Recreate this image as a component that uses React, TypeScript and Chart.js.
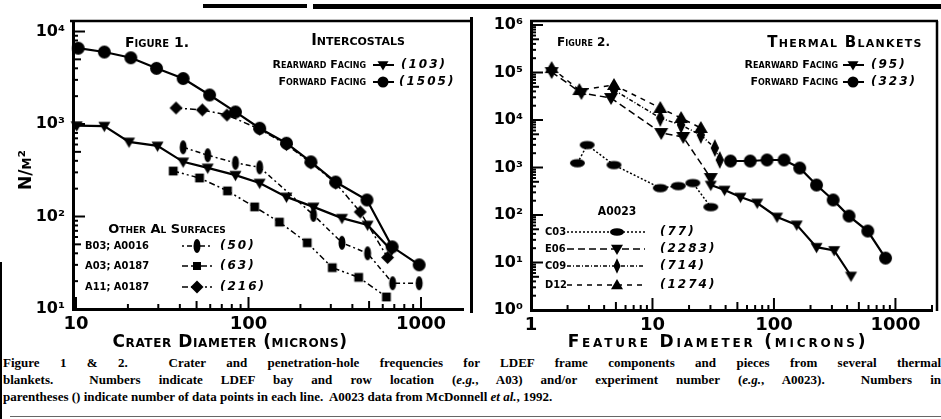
import React, { useEffect, useRef } from "react";
import { Chart, registerables } from "chart.js";

Chart.register(...registerables);

// ---------------- Figure 1 : Intercostals (crater diameter, microns -> N/m^2) ----------------
const fig1ForwardX = [10.3, 14.6, 20.8, 29.3, 41.8, 59.5, 84, 116, 166, 230, 320, 486, 680, 975];
const fig1ForwardY = [6600, 6000, 5200, 4000, 3100, 2060, 1350, 900, 620, 390, 236, 151, 47, 30];
const fig1RearwardX = [10.1, 14.6, 20.3, 29.7, 41.8, 58, 84, 116, 166, 238, 348, 490, 675];
const fig1RearwardY = [960, 950, 640, 580, 390, 335, 280, 230, 163, 127, 96, 81, 43];
const fig1B03X = [41.8, 58, 84, 116, 238, 348, 490, 685, 975];
const fig1B03Y = [560, 460, 380, 340, 104, 52, 40, 19, 19];
const fig1A03X = [36.6, 52, 75.5, 108.6, 151, 219, 306, 435, 630];
const fig1A03Y = [310, 261, 189, 127, 87, 52, 28, 22, 13.5];
const fig1A11X = [38, 54, 75, 116, 166, 230, 320, 444, 640];
const fig1A11Y = [1490, 1420, 1250, 880, 600, 380, 230, 112, 36];

const fig1Names = ["Rearward Facing", "Forward Facing", "B03; A0016", "A03; A0187", "A11; A0187"];
const fig1Counts = ["(103)", "(1505)", "(50)", "(63)", "(216)"];

// ---------------- Figure 2 : Thermal blankets (feature diameter, microns) ----------------
const fig2RearwardX = [30.2, 39.2, 53, 72.8, 106, 154, 224, 313, 431];
const fig2RearwardY = [428, 336, 239, 179, 91, 62, 21, 18, 5.2];
const fig2ForwardX = [43.9, 63.8, 87.7, 121, 163, 224, 307, 415, 592, 829];
const fig2ForwardY = [1370, 1370, 1440, 1440, 976, 428, 207, 95, 46, 12.4];
const fig2C03X = [2.41, 2.9, 4.82, 11.6, 16.3, 21.5, 30.2];
const fig2C03Y = [1240, 2980, 1130, 370, 408, 472, 147];
const fig2E06X = [1.48, 2.6, 4.56, 11.8, 17.9, 30.2];
const fig2E06Y = [102000, 37000, 29000, 5320, 4390, 601];
const fig2C09X = [4.82, 11.6, 17.2, 25, 32.6, 35.8];
const fig2C09Y = [42800, 11000, 7850, 4830, 2570, 1440];
const fig2D12X = [1.48, 2.5, 4.82, 11.6, 17.2, 25];
const fig2D12Y = [124000, 42800, 54600, 17900, 11000, 6790];

const fig2Names = ["Rearward Facing", "Forward Facing", "C03", "E06", "C09", "D12"];
const fig2Counts = ["(95)", "(323)", "(77)", "(2283)", "(714)", "(1274)"];

// ---------------- axes ----------------
const fig1XTicks = [10, 100, 1000];
const fig1YTicks = [10, 100, 1000, 10000];
const fig2XTicks = [1, 10, 100, 1000];
const fig2YTicks = [1, 10, 100, 1000, 10000, 100000, 1000000];
const SUP: Record<string, string> = { "0": "⁰", "1": "¹", "2": "²", "3": "³", "4": "⁴", "5": "⁵", "6": "⁶" };

type Mk = "circle" | "triDown" | "triUp" | "square" | "diamond" | "ellTall" | "ellWide" | "diaTall";

function drawMark(ctx: CanvasRenderingContext2D, kind: Mk, x: number, y: number, s: number) {
  ctx.save();
  ctx.fillStyle = "#000";
  ctx.setLineDash([]);
  ctx.beginPath();
  switch (kind) {
    case "circle":
      ctx.arc(x, y, s, 0, Math.PI * 2);
      break;
    case "triDown":
      ctx.moveTo(x - s, y - s * 0.7);
      ctx.lineTo(x + s, y - s * 0.7);
      ctx.lineTo(x, y + s);
      ctx.closePath();
      break;
    case "triUp":
      ctx.moveTo(x - s, y + s * 0.7);
      ctx.lineTo(x + s, y + s * 0.7);
      ctx.lineTo(x, y - s);
      ctx.closePath();
      break;
    case "square":
      ctx.rect(x - s * 0.8, y - s * 0.8, s * 1.6, s * 1.6);
      break;
    case "diamond":
      ctx.moveTo(x, y - s);
      ctx.lineTo(x + s, y);
      ctx.lineTo(x, y + s);
      ctx.lineTo(x - s, y);
      ctx.closePath();
      break;
    case "ellTall":
      ctx.ellipse(x, y, s * 0.5, s, 0, 0, Math.PI * 2);
      break;
    case "ellWide":
      ctx.ellipse(x, y, s, s * 0.55, 0, 0, Math.PI * 2);
      break;
    case "diaTall":
      ctx.moveTo(x, y - s * 1.3);
      ctx.lineTo(x + s * 0.6, y);
      ctx.lineTo(x, y + s * 1.3);
      ctx.lineTo(x - s * 0.6, y);
      ctx.closePath();
      break;
  }
  ctx.fill();
  ctx.restore();
}

function markCanvas(kind: Mk, s: number) {
  const c = document.createElement("canvas");
  const size = Math.ceil(s * 2.8) + 2;
  c.width = size;
  c.height = size;
  const g = c.getContext("2d") as CanvasRenderingContext2D;
  drawMark(g, kind, size / 2, size / 2, s);
  return c;
}

function series(xs: number[], ys: number[], kind: Mk, size: number, dash: number[], width: number) {
  return {
    data: xs.map((x, i) => ({ x, y: ys[i] })),
    showLine: true,
    borderColor: "#000",
    backgroundColor: "#000",
    borderWidth: width,
    borderDash: dash,
    pointStyle: markCanvas(kind, size),
    pointRadius: size,
    pointHoverRadius: size,
    clip: 14,
    tension: 0,
  };
}

const SC = (n: number) => `small-caps bold ${n}px "DejaVu Sans"`;
const IT = (n: number) => `italic bold ${n}px "DejaVu Sans"`;
const LB = (n: number) => `bold ${n}px "DejaVu Sans Condensed", "DejaVu Sans"`;

function txt(ctx: CanvasRenderingContext2D, s: string, x: number, y: number, font: string, align: CanvasTextAlign = "left", ls = "0px") {
  ctx.save();
  ctx.font = font;
  ctx.fillStyle = "#000";
  ctx.textAlign = align;
  ctx.textBaseline = "middle";
  (ctx as any).letterSpacing = ls;
  ctx.fillText(s, x, y);
  ctx.restore();
}

function line(ctx: CanvasRenderingContext2D, x1: number, y1: number, x2: number, y2: number, w: number, dash: number[] = []) {
  ctx.save();
  ctx.strokeStyle = "#000";
  ctx.lineWidth = w;
  ctx.setLineDash(dash);
  ctx.beginPath();
  ctx.moveTo(x1, y1);
  ctx.lineTo(x2, y2);
  ctx.stroke();
  ctx.restore();
}

function legendEntry(ctx: CanvasRenderingContext2D, x1: number, x2: number, xm: number, y: number, dash: number[], w: number, kind: Mk, s: number) {
  line(ctx, x1, y, x2, y, w, dash);
  drawMark(ctx, kind, xm, y, s);
}

function inTicks(ctx: CanvasRenderingContext2D, chart: any) {
  const xs = chart.scales.x;
  const ys = chart.scales.y;
  const a = chart.chartArea;
  for (const sc of [xs, ys]) {
    const lo = Math.floor(Math.log10(sc.min));
    const hi = Math.ceil(Math.log10(sc.max));
    for (let d = lo; d <= hi; d++) {
      for (let m = 1; m <= 9; m++) {
        const v = m * Math.pow(10, d);
        if (v < sc.min * 1.001 || v > sc.max) continue;
        const p = sc.getPixelForValue(v);
        const len = m === 1 ? 12 : m === 5 ? 8 : 5;
        if (sc === xs) line(ctx, p, a.bottom, p, a.bottom - len, 2);
        else line(ctx, a.left, p, a.left + len, p, 2);
      }
    }
  }
}

function logScale(min: number, max: number, vals: number[], fmt: (v: number) => string, size: number, pad: number, fit: (s: any) => void) {
  return {
    type: "logarithmic" as const,
    min,
    max,
    afterBuildTicks: (s: any) => {
      s.ticks = vals.map((v) => ({ value: v }));
    },
    afterFit: fit,
    grid: { display: false, drawTicks: false },
    border: { display: true, width: 3, color: "#000" },
    ticks: {
      autoSkip: false,
      maxRotation: 0,
      padding: pad,
      color: "#000",
      font: { family: "DejaVu Sans", weight: "bold" as const, size },
      callback: (v: any) => fmt(Number(v)),
    },
  };
}

const decFmt = (v: number) => "10" + SUP[String(Math.round(Math.log10(v)))];
const numFmt = (v: number) => String(Math.round(v));

export default function App() {
  const leftRef = useRef<HTMLCanvasElement>(null);
  const rightRef = useRef<HTMLCanvasElement>(null);

  useEffect(() => {
    const leftPlugin = {
      id: "fig1decor",
      afterDraw(chart: any) {
        const ctx: CanvasRenderingContext2D = chart.ctx;
        line(ctx, 70, 21, 471, 21, 2.5);
        inTicks(ctx, chart);
        txt(ctx, "Figure 1.", 125, 43, SC(14));
        txt(ctx, "Intercostals", 358, 41, SC(15), "center");
        txt(ctx, fig1Names[0], 366, 65, SC(11), "right");
        legendEntry(ctx, 373, 394, 383, 65, [], 2, "triDown", 5.5);
        txt(ctx, fig1Counts[0], 401, 65, IT(12), "left", "2px");
        txt(ctx, fig1Names[1], 366, 82, SC(11), "right");
        legendEntry(ctx, 373, 394, 383, 82, [], 2, "circle", 5.5);
        txt(ctx, fig1Counts[1], 399, 82, IT(12), "left", "2px");
        txt(ctx, "Other Al Surfaces", 167, 230, SC(13), "center");
        const rows: [number, Mk, number, number[]][] = [
          [246, "ellTall", 7, [2, 3, 5, 3]],
          [266, "square", 5, [6, 3, 2, 3, 2, 3]],
          [287, "diamond", 6.5, [6, 3, 2, 3]],
        ];
        rows.forEach(([y, k, s, dash], i) => {
          txt(ctx, fig1Names[i + 2], 85, y, LB(11));
          legendEntry(ctx, 182, 212, 197, y, dash, 1.5, k, s);
          txt(ctx, fig1Counts[i + 2], 220, y, IT(12), "left", "2px");
        });
        txt(ctx, "Crater Diameter (microns)", 230, 343, SC(17), "center", "0.6px");
        ctx.save();
        ctx.translate(27, 170);
        ctx.rotate(-Math.PI / 2);
        txt(ctx, "N/m²", 0, 0, SC(17), "center");
        ctx.restore();
      },
    };

    const ox = 472;
    const rightPlugin = {
      id: "fig2decor",
      afterDraw(chart: any) {
        const ctx: CanvasRenderingContext2D = chart.ctx;
        ctx.save();
        ctx.translate(-ox, 0);
        line(ctx, 530, 21, 938, 21, 2.5);
        line(ctx, 937, 21, 937, 311, 2.5);
        ctx.translate(ox, 0);
        inTicks(ctx, chart);
        ctx.translate(-ox, 0);
        txt(ctx, "Figure 2.", 557, 43, SC(12));
        txt(ctx, "Thermal Blankets", 845, 43, SC(15), "center", "1.3px");
        txt(ctx, fig2Names[0], 838, 65, SC(11), "right");
        legendEntry(ctx, 843, 864, 853, 65, [], 2, "triDown", 5.5);
        txt(ctx, fig2Counts[0], 871, 65, IT(12), "left", "2px");
        txt(ctx, fig2Names[1], 838, 82, SC(11), "right");
        legendEntry(ctx, 843, 864, 853, 82, [], 2, "circle", 5.5);
        txt(ctx, fig2Counts[1], 871, 82, IT(12), "left", "2px");
        txt(ctx, "A0023", 617, 212, LB(12), "center");
        const rows: [number, Mk, number, number[]][] = [
          [232, "ellWide", 7, [2, 2]],
          [249, "triDown", 6, [7, 4]],
          [266, "diaTall", 6, [4, 2, 1, 2]],
          [285, "triUp", 6, [5, 5]],
        ];
        rows.forEach(([y, k, s, dash], i) => {
          txt(ctx, fig2Names[i + 2], 545, y, LB(11));
          legendEntry(ctx, 567, 645, 617, y, dash, 1.5, k, s);
          txt(ctx, fig2Counts[i + 2], 660, y, IT(12), "left", "2px");
        });
        txt(ctx, "Feature Diameter (microns)", 718, 343, SC(17), "center", "2.8px");
        ctx.restore();
      },
    };

    const left = new Chart(leftRef.current as HTMLCanvasElement, {
      type: "scatter",
      data: {
        datasets: [
          series(fig1ForwardX, fig1ForwardY, "circle", 6.5, [], 2.2),
          series(fig1RearwardX, fig1RearwardY, "triDown", 6, [], 2.2),
          series(fig1B03X, fig1B03Y, "ellTall", 7, [5, 3, 2, 3], 1.5),
          series(fig1A03X, fig1A03Y, "square", 5.5, [6, 3, 2, 3, 2, 3], 1.5),
          series(fig1A11X, fig1A11Y, "diamond", 6.5, [6, 3, 2, 3], 1.5),
        ] as any,
      },
      options: {
        responsive: false,
        animation: false,
        devicePixelRatio: 1,
        layout: { padding: { top: 22, right: 2, left: 0, bottom: 0 } },
        plugins: { legend: { display: false }, tooltip: { enabled: false } },
        scales: {
          x: logScale(9.61, 1758, fig1XTicks, numFmt, 18, 5, (s: any) => { s.height = 43; }),
          y: logScale(10, 12670, fig1YTicks, decFmt, 16, 8, (s: any) => { s.width = 73; }),
        } as any,
      },
      plugins: [leftPlugin],
    });

    const right = new Chart(rightRef.current as HTMLCanvasElement, {
      type: "scatter",
      data: {
        datasets: [
          series(fig2RearwardX, fig2RearwardY, "triDown", 6, [], 2.2),
          series(fig2ForwardX, fig2ForwardY, "circle", 6.5, [], 2.2),
          series(fig2C03X, fig2C03Y, "ellWide", 7.5, [2, 2], 1.5),
          series(fig2E06X, fig2E06Y, "triDown", 7, [7, 4], 1.5),
          series(fig2C09X, fig2C09Y, "diaTall", 7, [4, 2, 1, 2], 1.5),
          series(fig2D12X, fig2D12Y, "triUp", 7, [5, 5], 1.5),
        ] as any,
      },
      options: {
        responsive: false,
        animation: false,
        devicePixelRatio: 1,
        layout: { padding: { top: 22, right: 4, left: 0, bottom: 0 } },
        plugins: { legend: { display: false }, tooltip: { enabled: false } },
        scales: {
          x: logScale(1, 2000, fig2XTicks, numFmt, 18, 5, (s: any) => { s.height = 42; }),
          y: logScale(1, 1157000, fig2YTicks, decFmt, 16, 8, (s: any) => { s.width = 59; }),
        } as any,
      },
      plugins: [rightPlugin],
    });

    return () => {
      left.destroy();
      right.destroy();
    };
  }, []);

  const capLine: React.CSSProperties = {
    height: 17,
    overflow: "hidden",
    textAlign: "justify",
    textAlignLast: "justify",
  };

  return (
    <div
      style={{
        position: "absolute",
        left: 0,
        top: 0,
        width: 941,
        height: 419,
        background: "#fff",
        overflow: "hidden",
      }}
    >
      <canvas ref={leftRef} width={472} height={352} style={{ position: "absolute", left: 0, top: 0, width: 472, height: 352 }} />
      <canvas ref={rightRef} width={469} height={352} style={{ position: "absolute", left: 472, top: 0, width: 469, height: 352 }} />
      <div style={{ position: "absolute", left: 203, top: 4, width: 104, height: 4, background: "#000" }} />
      <div style={{ position: "absolute", left: 313, top: 4, width: 628, height: 5, background: "#000" }} />
      <div style={{ position: "absolute", left: 470, top: 17, width: 3, height: 296, background: "#000" }} />
      <div style={{ position: "absolute", left: 0, top: 262, width: 2, height: 157, background: "#000" }} />
      <div style={{ position: "absolute", left: 10, top: 416, width: 931, height: 1, background: "#666" }} />
      <div
        style={{
          position: "absolute",
          left: 3,
          top: 354,
          width: 938,
          font: 'bold 13px "Liberation Serif"',
          lineHeight: "17px",
          color: "#000",
        }}
      >
        <div style={capLine}>
          Figure 1 &amp; 2.&nbsp; Crater and penetration-hole frequencies for LDEF frame components and pieces from several thermal
        </div>
        <div style={capLine}>
          blankets.&nbsp; Numbers indicate LDEF bay and row location (<i>e.g.</i>, A03) and/or experiment number (<i>e.g.</i>, A0023).&nbsp; Numbers in
        </div>
        <div style={{ height: 17, overflow: "hidden" }}>
          parentheses () indicate number of data points in each line.&nbsp; A0023 data from McDonnell <i>et al.</i>, 1992.
        </div>
      </div>
    </div>
  );
}
